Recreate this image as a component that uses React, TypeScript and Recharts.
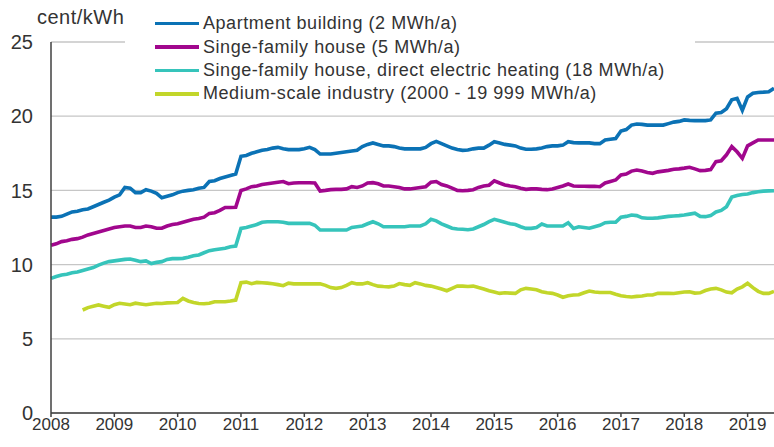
import { CartesianGrid, Line, LineChart, XAxis, YAxis } from "recharts";

const years = ["2008", "2009", "2010", "2011", "2012", "2013", "2014", "2015", "2016", "2017", "2018", "2019"];

const seriesNames = [
  "Apartment building (2 MWh/a)",
  "Singe-family house (5 MWh/a)",
  "Singe-family house, direct electric heating (18 MWh/a)",
  "Medium-scale industry (2000 - 19 999 MWh/a)"
];

// monthly, Jan 2008 - Jun 2019
const apartment = [
  13.2, 13.2, 13.25, 13.4, 13.55, 13.6, 13.7, 13.75, 13.9, 14.05, 14.2, 14.35,
  14.55, 14.7, 15.2, 15.15, 14.85, 14.85, 15.05, 14.95, 14.8, 14.5, 14.6, 14.7,
  14.85, 14.95, 15.0, 15.05, 15.15, 15.2, 15.6, 15.65, 15.8, 15.9, 16.0, 16.1,
  17.3, 17.35, 17.5, 17.6, 17.7, 17.75, 17.85, 17.9, 17.8, 17.75, 17.75, 17.75,
  17.8, 17.9, 17.75, 17.45, 17.45, 17.45, 17.5, 17.55, 17.6, 17.65, 17.7, 17.95,
  18.1, 18.2, 18.1, 18.0, 18.0, 17.95, 17.85, 17.8, 17.8, 17.8, 17.8, 17.9,
  18.15, 18.3, 18.15, 18.0, 17.85, 17.75, 17.7, 17.72, 17.8, 17.85, 17.85, 18.05,
  18.28, 18.2, 18.1, 18.05, 18.0, 17.85, 17.77, 17.77, 17.8, 17.85, 17.95, 18.0,
  18.0, 18.05, 18.28, 18.22, 18.2, 18.2, 18.2, 18.15, 18.15, 18.4, 18.45, 18.5,
  19.0, 19.1, 19.4, 19.47, 19.45, 19.4, 19.4, 19.4, 19.4, 19.5, 19.6, 19.65,
  19.75, 19.72, 19.7, 19.7, 19.7, 19.75, 20.2, 20.25, 20.5, 21.1, 21.2, 20.4,
  21.3, 21.55, 21.6, 21.62, 21.65, 21.88
];

const singleFamily = [
  11.3, 11.4, 11.55, 11.6, 11.7, 11.75, 11.85, 12.0, 12.1, 12.2, 12.3, 12.4,
  12.5, 12.55, 12.6, 12.6, 12.5, 12.5, 12.6, 12.55, 12.45, 12.45, 12.6, 12.7,
  12.75, 12.85, 12.95, 13.05, 13.1, 13.2, 13.45, 13.5, 13.65, 13.85, 13.85, 13.86,
  15.0, 15.1, 15.25, 15.3, 15.4, 15.45, 15.5, 15.55, 15.6, 15.45, 15.5, 15.52,
  15.52, 15.52, 15.5, 14.96, 15.0, 15.05, 15.07, 15.07, 15.1, 15.25, 15.2, 15.3,
  15.5, 15.52, 15.45, 15.3, 15.3, 15.25, 15.2, 15.1, 15.1, 15.15, 15.2, 15.25,
  15.55, 15.6, 15.4, 15.3, 15.15, 15.0, 14.98, 15.0, 15.05, 15.2, 15.3, 15.35,
  15.65, 15.5, 15.37, 15.3, 15.25, 15.15, 15.07, 15.1, 15.1, 15.07, 15.05, 15.1,
  15.2, 15.3, 15.43, 15.3, 15.28, 15.28, 15.27, 15.28, 15.25, 15.5, 15.6, 15.7,
  16.04, 16.1, 16.3, 16.37, 16.3, 16.2, 16.15, 16.25, 16.3, 16.35, 16.42, 16.45,
  16.5, 16.56, 16.45, 16.33, 16.35, 16.4, 16.94, 17.0, 17.4, 17.95, 17.6, 17.16,
  18.0, 18.2, 18.4, 18.4, 18.4, 18.4
];

const electricHeating = [
  9.07, 9.2, 9.3, 9.35, 9.45, 9.5, 9.6, 9.7, 9.8, 9.97, 10.1, 10.2,
  10.25, 10.3, 10.35, 10.38, 10.3, 10.2, 10.25, 10.07, 10.15, 10.2, 10.35, 10.4,
  10.4, 10.42, 10.5, 10.6, 10.65, 10.8, 10.94, 11.0, 11.05, 11.1, 11.2, 11.25,
  12.44, 12.5, 12.6, 12.7, 12.85, 12.89, 12.89, 12.89, 12.85, 12.78, 12.78, 12.78,
  12.78, 12.78, 12.65, 12.33, 12.33, 12.33, 12.33, 12.33, 12.33, 12.5, 12.55, 12.6,
  12.75, 12.89, 12.75, 12.55, 12.55, 12.55, 12.55, 12.55, 12.6, 12.6, 12.6, 12.75,
  13.05, 12.95, 12.75, 12.6, 12.45, 12.4, 12.38, 12.35, 12.4, 12.55, 12.7, 12.9,
  13.05, 12.95, 12.85, 12.75, 12.7, 12.55, 12.44, 12.44, 12.5, 12.73, 12.6, 12.6,
  12.6, 12.6, 12.82, 12.44, 12.55, 12.5, 12.45, 12.55, 12.65, 12.82, 12.85, 12.85,
  13.2, 13.25, 13.34, 13.3, 13.15, 13.12, 13.12, 13.15, 13.2, 13.25, 13.28, 13.3,
  13.34, 13.4, 13.46, 13.25, 13.23, 13.3, 13.55, 13.65, 13.9, 14.55, 14.65, 14.72,
  14.76, 14.85, 14.91, 14.95, 14.97, 14.98
];

const industry = [
  null, null, null, null, null, null, 6.94, 7.1, 7.2, 7.28, 7.2, 7.12,
  7.3, 7.39, 7.35, 7.3, 7.4, 7.35, 7.3, 7.35, 7.4, 7.38, 7.42, 7.43,
  7.45, 7.73, 7.55, 7.45, 7.38, 7.36, 7.4, 7.5, 7.5, 7.5, 7.55, 7.61,
  8.78, 8.82, 8.71, 8.8, 8.78, 8.75, 8.71, 8.65, 8.58, 8.75, 8.7, 8.7,
  8.7, 8.7, 8.7, 8.7, 8.6, 8.45, 8.4, 8.45, 8.6, 8.78, 8.7, 8.7,
  8.78, 8.65, 8.55, 8.52, 8.5, 8.55, 8.72, 8.65, 8.6, 8.78, 8.7, 8.6,
  8.55, 8.45, 8.35, 8.24, 8.4, 8.56, 8.55, 8.52, 8.55, 8.45, 8.36, 8.24,
  8.15, 8.06, 8.1, 8.08, 8.06, 8.3, 8.4, 8.35, 8.3, 8.17, 8.1, 8.06,
  7.95, 7.8, 7.9, 7.95, 7.97, 8.1, 8.22, 8.15, 8.12, 8.12, 8.12, 8.0,
  7.9, 7.85, 7.82, 7.86, 7.88, 7.95, 7.95, 8.06, 8.06, 8.06, 8.05, 8.1,
  8.15, 8.17, 8.08, 8.1, 8.25, 8.35, 8.4, 8.3, 8.15, 8.1, 8.35, 8.5,
  8.74, 8.45, 8.2, 8.06, 8.06, 8.2
];

const yTicks = [0, 5, 10, 15, 20, 25];
const colors = ["#0b72b5", "#a1078d", "#36c4bb", "#c2d62a"];
const keys = ["apartment", "singleFamily", "electricHeating", "industry"];

const data = apartment.map((v, i) => ({
  m: i,
  apartment: v,
  singleFamily: singleFamily[i],
  electricHeating: electricHeating[i],
  industry: industry[i]
}));

const font = "'Liberation Sans', Arial, sans-serif";
const textColor = "#333";

function LegendBox() {
  return (
    <div
      style={{
        position: "absolute",
        left: 125,
        top: 12,
        width: 570,
        background: "#fff",
        padding: "0 0 2px 30px",
        boxSizing: "border-box",
        fontFamily: font,
        zIndex: 2
      }}
    >
      {seriesNames.map((name, i) => (
        <div key={name} style={{ display: "flex", alignItems: "center", height: 23.4 }}>
          <span style={{ width: 44, height: 3.5, background: colors[i], marginRight: 4 }} />
          <span style={{ fontSize: 18, letterSpacing: 0.55, color: textColor, whiteSpace: "nowrap" }}>{name}</span>
        </div>
      ))}
    </div>
  );
}

export default function App() {
  return (
    <div style={{ position: "absolute", left: 0, top: 0, width: 774, height: 447, background: "#fff" }}>
      <style>{"body{margin:0}"}</style>
      <LineChart
        width={774}
        height={447}
        data={data}
        margin={{ top: 42, right: 0, bottom: 0, left: 0 }}
        style={{ fontFamily: font }}
      >
        <CartesianGrid horizontal vertical={false} stroke="#c6c6c6" strokeWidth={1.3} />
        <XAxis
          dataKey="m"
          type="number"
          domain={[0, 137]}
          ticks={years.map((_, i) => i * 12)}
          tickFormatter={(v: number) => years[v / 12]}
          interval={0}
          height={34}
          stroke="#404040"
          strokeWidth={1.5}
          tickSize={4}
          tickMargin={1}
          tick={{ fill: textColor, fontSize: 17 }}
        />
        <YAxis
          domain={[0, 25]}
          ticks={yTicks}
          width={51}
          stroke="#404040"
          strokeWidth={1.5}
          tickLine={false}
          tickMargin={12}
          tick={{ fill: textColor, fontSize: 20 }}
        />
        {keys.map((k, i) => (
          <Line
            key={k}
            dataKey={k}
            name={seriesNames[i]}
            stroke={colors[i]}
            strokeWidth={3.6}
            dot={false}
            isAnimationActive={false}
            type="linear"
          />
        ))}
      </LineChart>
      <div
        style={{
          position: "absolute",
          left: 37,
          top: 6,
          fontSize: 20,
          letterSpacing: 0.5,
          color: textColor,
          fontFamily: font,
          zIndex: 2
        }}
      >
        cent/kWh
      </div>
      <LegendBox />
    </div>
  );
}
